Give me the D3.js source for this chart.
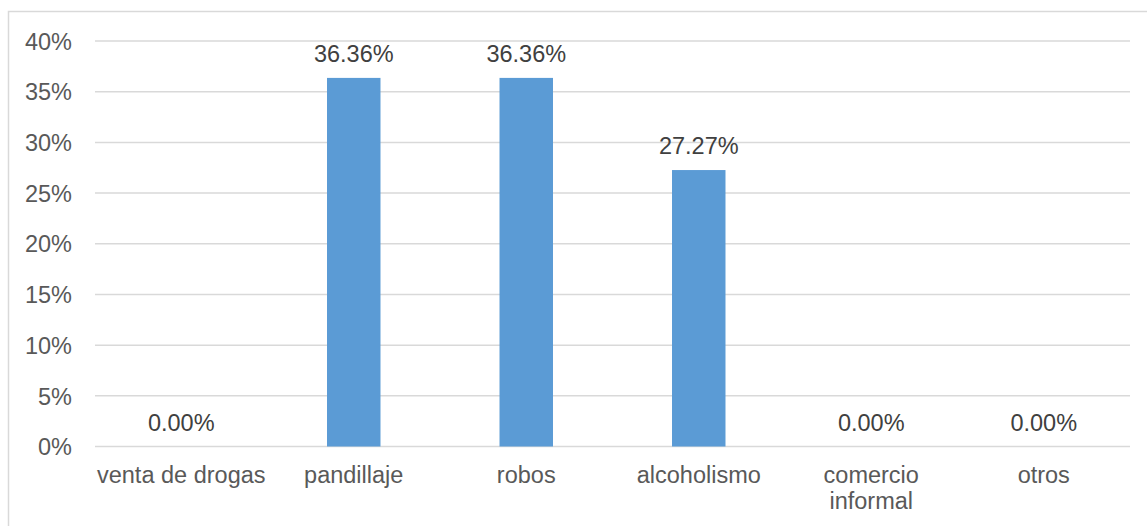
<!DOCTYPE html>
<html>
<head>
<meta charset="utf-8">
<script src="https://cdn.jsdelivr.net/npm/d3@7"></script>
<style>
body { margin: 0; background: #fff; }
svg { display: block; }
</style>
</head>
<body>
<svg id="chart" width="1147" height="526"></svg>
<script>
const categories = ["venta de drogas", "pandillaje", "robos", "alcoholismo", "comercio informal", "otros"];
const values = [0, 36.36, 36.36, 27.27, 0, 0];
const yTicks = [0, 5, 10, 15, 20, 25, 30, 35, 40];

(function() {
const svg = d3.select("#chart");
const font = "'Liberation Sans', Arial, sans-serif";
const fs = 23.5;

// outer border
svg.append("rect")
  .attr("x", 8.5).attr("y", 11.5)
  .attr("width", 1160).attr("height", 540)
  .attr("fill", "none").attr("stroke", "#d9d9d9").attr("stroke-width", 1.5);

const pLeft = 95, pRight = 1130, pTop = 41, pBottom = 446.5;

const x = d3.scaleBand().domain(categories).range([pLeft, pRight]).paddingInner(0.69).paddingOuter(0.345);
const y = d3.scaleLinear().domain([0, 40]).range([pBottom, pTop]);

// gridlines
svg.append("g").selectAll("line").data(yTicks).join("line")
  .attr("x1", pLeft).attr("x2", pRight)
  .attr("y1", d => y(d)).attr("y2", d => y(d))
  .attr("stroke", "#d9d9d9").attr("stroke-width", 1.5);

// y axis labels
const yAxis = d3.axisLeft(y).tickValues(yTicks).tickFormat(d => d + "%").tickSize(0).tickPadding(0);
const gy = svg.append("g").attr("transform", `translate(72,0)`).call(yAxis);
gy.select(".domain").remove();
gy.selectAll("text")
  .attr("font-family", font).attr("font-size", fs).attr("fill", "#595959").attr("dy", "0.35em");

// bars
svg.append("g").selectAll("rect").data(values).join("rect")
  .attr("x", (d, i) => x(categories[i]))
  .attr("width", x.bandwidth())
  .attr("y", d => y(d))
  .attr("height", d => pBottom - y(d))
  .attr("fill", "#5b9bd5");

// data labels
svg.append("g").selectAll("text").data(values).join("text")
  .attr("x", (d, i) => x(categories[i]) + x.bandwidth() / 2)
  .attr("y", d => y(d) - 16)
  .attr("text-anchor", "middle")
  .attr("font-family", font).attr("font-size", fs).attr("fill", "#404040")
  .text(d => d.toFixed(2) + "%");

// x axis labels
const xAxis = d3.axisBottom(x).tickSize(0).tickPadding(0);
const gx = svg.append("g").attr("transform", `translate(0,${pBottom})`).call(xAxis);
gx.select(".domain").remove();
gx.selectAll("text").each(function(d) {
  const t = d3.select(this);
  t.text(null).attr("y", 0).attr("dy", null)
   .attr("font-family", font).attr("font-size", fs).attr("fill", "#595959");
  const lines = d === "comercio informal" ? ["comercio", "informal"] : [d];
  lines.forEach((ln, k) => {
    t.append("tspan").attr("x", 0).attr("y", 36 + k * 26.5).text(ln);
  });
});
})();
</script>
</body>
</html>
